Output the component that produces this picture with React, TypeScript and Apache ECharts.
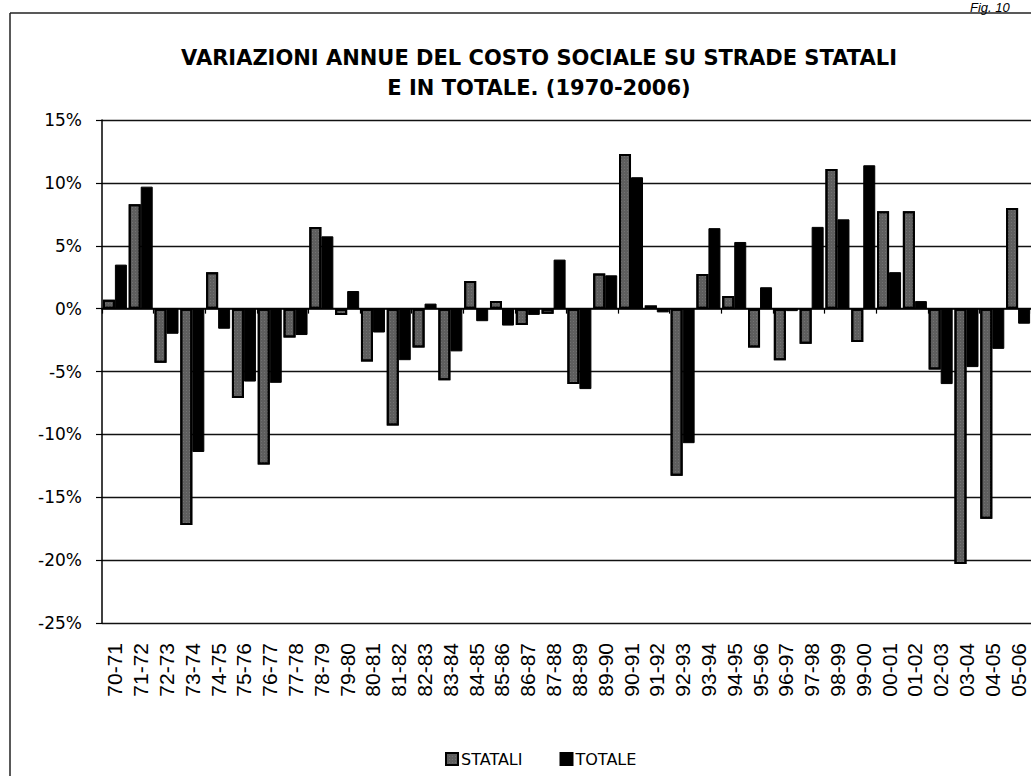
import React, { useEffect, useRef } from "react";
import * as echarts from "echarts";

const categories = [
  "70-71", "71-72", "72-73", "73-74", "74-75", "75-76", "76-77", "77-78", "78-79", "79-80",
  "80-81", "81-82", "82-83", "83-84", "84-85", "85-86", "86-87", "87-88", "88-89", "89-90",
  "90-91", "91-92", "92-93", "93-94", "94-95", "95-96", "96-97", "97-98", "98-99", "99-00",
  "00-01", "01-02", "02-03", "03-04", "04-05", "05-06",
];

const statali = [
  0.7, 8.3, -4.3, -17.2, 2.9, -7.1, -12.4, -2.3, 6.5, -0.5,
  -4.2, -9.3, -3.1, -5.7, 2.2, 0.6, -1.3, -0.4, -6.0, 2.8,
  12.3, 0.25, -13.3, 2.75, 1.0, -3.1, -4.1, -2.8, 11.1, -2.65,
  7.75, 7.75, -4.85, -20.3, -16.7, 8.0,
];

const totale = [
  3.5, 9.7, -2.0, -11.4, -1.6, -5.8, -5.9, -2.1, 5.75, 1.4,
  -1.9, -4.1, 0.4, -3.4, -1.0, -1.35, -0.5, 3.9, -6.4, 2.65,
  10.45, -0.3, -10.7, 6.4, 5.3, 1.7, -0.2, 6.5, 7.1, 11.4,
  2.9, 0.6, -6.0, -4.65, -3.2, -1.2,
];

const seriesNames = ["STATALI", "TOTALE"];
const titleText = "VARIAZIONI ANNUE DEL COSTO SOCIALE SU STRADE STATALI\nE IN TOTALE. (1970-2006)";
const figText = "Fig. 10";

export default function App() {
  const ref = useRef<HTMLDivElement>(null);
  useEffect(() => {
    if (!ref.current) return;
    const chart = echarts.init(ref.current, undefined, { renderer: "svg" });
    const sans = "DejaVu Sans";
    chart.setOption({
      animation: false,
      backgroundColor: "#ffffff",
      title: {
        text: titleText,
        left: 534,
        top: 38,
        textAlign: "center",
        textStyle: {
          fontFamily: sans,
          fontWeight: "bold",
          fontSize: 21,
          lineHeight: 30,
          color: "#000",
        },
      },
      graphic: [
        { type: "line", shape: { x1: 10, y1: 13, x2: 1031, y2: 13 }, style: { stroke: "#222", lineWidth: 1.5 } },
        { type: "line", shape: { x1: 10, y1: 13, x2: 10, y2: 776 }, style: { stroke: "#222", lineWidth: 1.5 } },
        {
          type: "text",
          x: 970,
          y: 1,
          style: {
            text: figText,
            fontFamily: "Liberation Sans",
            fontStyle: "italic",
            fontSize: 13,
            verticalAlign: "top",
            fill: "#000",
          },
        },
      ],
      legend: {
        data: seriesNames,
        left: 440,
        top: 746,
        icon: "rect",
        itemWidth: 12,
        itemHeight: 12,
        itemGap: 37,
        textStyle: { fontFamily: sans, fontSize: 16, color: "#000", padding: [0, 0, 0, -2] },
      },
      grid: { left: 102, top: 120, width: 933, height: 503, containLabel: false },
      xAxis: [
        {
          type: "category",
          data: categories,
          position: "bottom",
          axisLine: { show: false, onZero: false },
          axisTick: { show: false },
          axisLabel: {
            rotate: 90,
            interval: 0,
            margin: 20,
            fontFamily: "Liberation Sans",
            fontSize: 21,
            color: "#000",
          },
          splitLine: { show: false },
        },
        {
          type: "category",
          data: categories,
          position: "bottom",
          axisLine: { show: true, onZero: true, lineStyle: { color: "#000", width: 1.5 } },
          axisTick: { show: true, length: 5, lineStyle: { color: "#000", width: 1.2 } },
          axisLabel: { show: false },
          splitLine: { show: false },
        },
      ],
      yAxis: {
        type: "value",
        min: -25,
        max: 15,
        interval: 5,
        axisLine: { show: true, lineStyle: { color: "#000", width: 1.5 } },
        axisTick: { show: true, length: 6, lineStyle: { color: "#000", width: 1.2 } },
        axisLabel: {
          formatter: "{value}%",
          fontFamily: sans,
          fontSize: 17,
          color: "#000",
          margin: 20,
        },
        splitLine: { show: true, lineStyle: { color: "#111", width: 1.3 } },
      },
      series: [
        {
          name: seriesNames[0],
          type: "bar",
          data: statali,
          barWidth: 12,
          barGap: "0%",
          itemStyle: {
            color: "#5e5e5e",
            borderColor: "#000",
            borderWidth: 2,
            decal: {
              symbol: "rect",
              symbolSize: 0.6,
              color: "rgba(230,230,230,0.5)",
              dashArrayX: [1, 2],
              dashArrayY: [1, 2],
              rotation: 0,
            },
          },
        },
        {
          name: seriesNames[1],
          type: "bar",
          data: totale,
          barWidth: 12,
          barGap: "0%",
          itemStyle: { color: "#000", borderColor: "#000", borderWidth: 1 },
        },
      ],
    });
    return () => chart.dispose();
  }, []);
  return (
    <div
      ref={ref}
      style={{ position: "absolute", left: 0, top: 0, width: 1031, height: 776, background: "#fff" }}
    />
  );
}
